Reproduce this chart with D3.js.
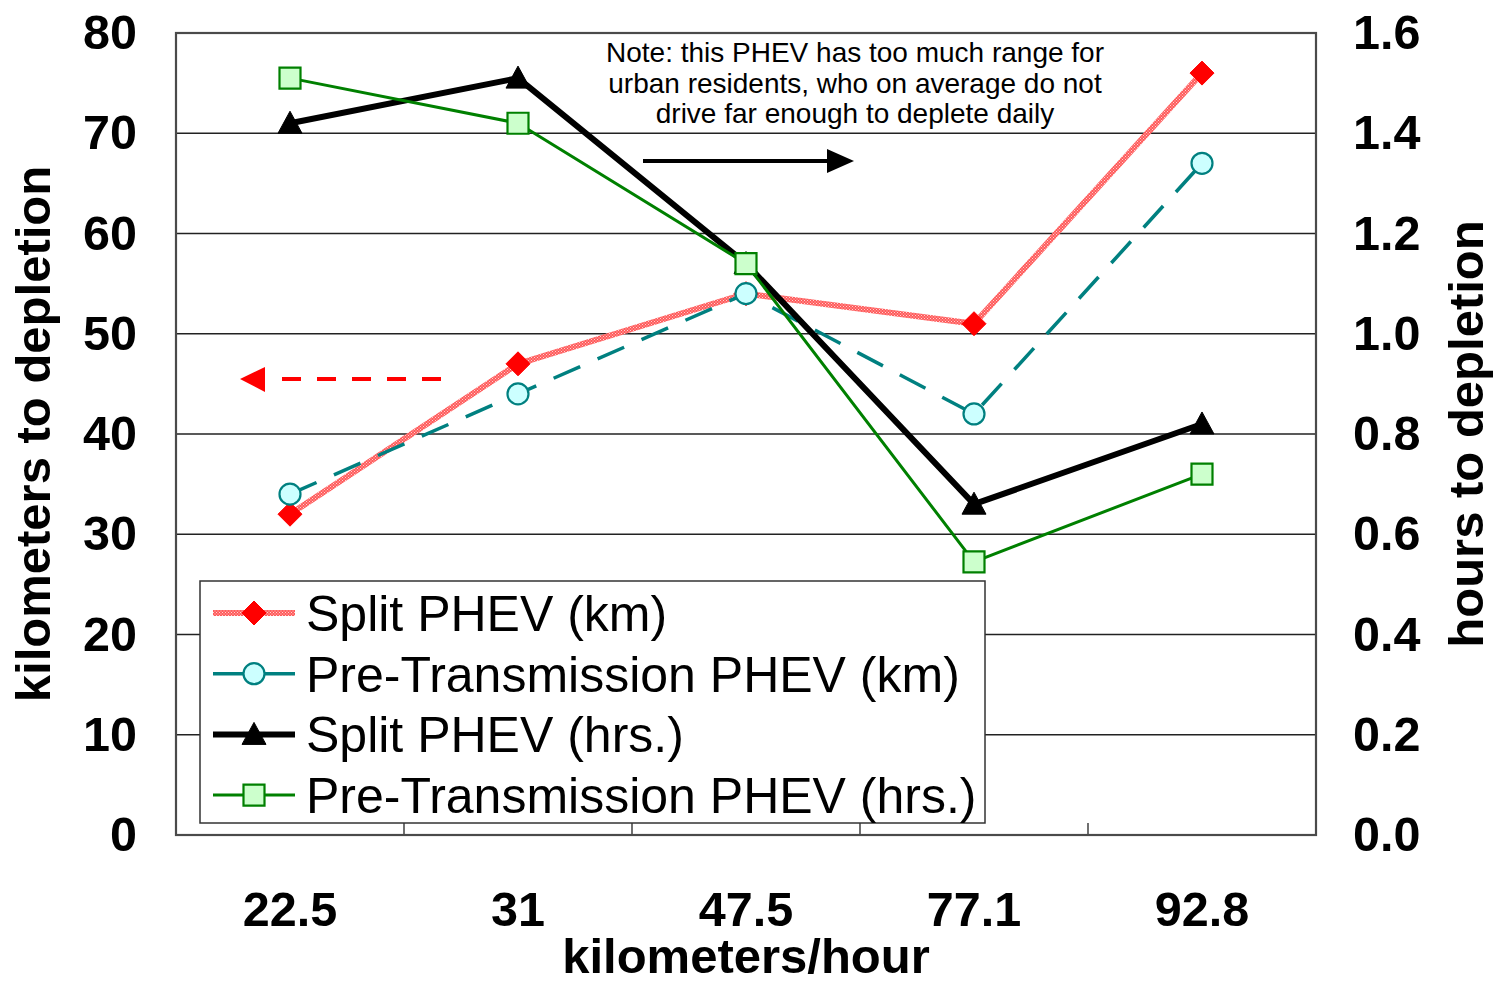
<!DOCTYPE html>
<html>
<head>
<meta charset="utf-8">
<script src="https://cdn.jsdelivr.net/npm/d3@7"></script>
<style>
  body { margin: 0; background: #fff; }
  svg { display: block; font-family: "Liberation Sans", Arial, sans-serif; }
</style>
</head>
<body>
<svg id="chart" width="1497" height="985"></svg>
<script>
// ---- data ----
const categories = ["22.5", "31", "47.5", "77.1", "92.8"];
const kmSplit = [32, 47, 54, 51, 76];
const kmPre = [34, 44, 54, 42, 67];
const hrsSplit = [1.42, 1.51, 1.14, 0.66, 0.82];
const hrsPre = [1.51, 1.42, 1.14, 0.545, 0.72];
const leftTicks = [0, 10, 20, 30, 40, 50, 60, 70, 80];
const rightTicks = [0, 0.2, 0.4, 0.6, 0.8, 1.0, 1.2, 1.4, 1.6];
const seriesNames = ["Split PHEV (km)", "Pre-Transmission PHEV (km)", "Split PHEV (hrs.)", "Pre-Transmission PHEV (hrs.)"];
const noteLines = ["Note: this PHEV has too much range for", "urban residents, who on average do not", "drive far enough to deplete daily"];
const xTitle = "kilometers/hour";
const yLeftTitle = "kilometers to depletion";
const yRightTitle = "hours to depletion";

// ---- layout ----
const L = 176, R = 1316, T = 33, B = 835;
const svg = d3.select("#chart");

const x = d3.scaleBand().domain(categories).range([L, R]);
const yL = d3.scaleLinear().domain([0, 80]).range([B, T]);
const yR = d3.scaleLinear().domain([0, 1.6]).range([B, T]);
const cx = c => x(c) + x.bandwidth() / 2;

// pattern for the hatched pink line
const defs = svg.append("defs");
const pat = defs.append("pattern").attr("id", "hatch").attr("patternUnits", "userSpaceOnUse")
  .attr("width", 3).attr("height", 3);
pat.append("rect").attr("width", 3).attr("height", 3).attr("fill", "#ff5a5a");
pat.append("rect").attr("x", 0).attr("y", 0).attr("width", 1).attr("height", 1).attr("fill", "#ffd0d0");
pat.append("rect").attr("x", 1.5).attr("y", 1.5).attr("width", 1).attr("height", 1).attr("fill", "#ffd0d0");

// gridlines
svg.append("g").selectAll("line").data(leftTicks.filter(d => d > 0 && d < 80)).join("line")
  .attr("x1", L).attr("x2", R).attr("y1", d => yL(d)).attr("y2", d => yL(d))
  .attr("stroke", "#222").attr("stroke-width", 1.3);

// bottom inner ticks at band boundaries
svg.append("g").selectAll("line").data(categories.slice(1)).join("line")
  .attr("x1", d => x(d)).attr("x2", d => x(d)).attr("y1", B).attr("y2", B - 12)
  .attr("stroke", "#222").attr("stroke-width", 1.3);

// frame
svg.append("rect").attr("x", L).attr("y", T).attr("width", R - L).attr("height", B - T)
  .attr("fill", "none").attr("stroke", "#4a4a4a").attr("stroke-width", 2.2);

// axes labels (via d3 axes)
const axL = svg.append("g").attr("transform", `translate(${L},0)`)
  .call(d3.axisLeft(yL).tickValues(leftTicks).tickSize(0).tickPadding(39).tickFormat(d3.format("d")));
const axR = svg.append("g").attr("transform", `translate(${R},0)`)
  .call(d3.axisRight(yR).tickValues(rightTicks).tickSize(0).tickPadding(37).tickFormat(d3.format(".1f")));
const axB = svg.append("g").attr("transform", `translate(0,${B})`)
  .call(d3.axisBottom(x).tickSize(0).tickPadding(57));
[axL, axR, axB].forEach(a => {
  a.select(".domain").remove();
  a.selectAll("text").attr("font-family", "'Liberation Sans', Arial, sans-serif")
    .attr("font-size", 48.5).attr("font-weight", "bold").attr("fill", "#000");
});
axB.selectAll("text").attr("dy", "0.71em");

// axis titles
svg.append("text").attr("x", (L + R) / 2).attr("y", 973).attr("text-anchor", "middle")
  .attr("font-size", 49).attr("font-weight", "bold").text(xTitle);
svg.append("text").attr("transform", "translate(50,434) rotate(-90)").attr("text-anchor", "middle")
  .attr("font-size", 49).attr("font-weight", "bold").text(yLeftTitle);
svg.append("text").attr("transform", "translate(1483,434) rotate(-90)").attr("text-anchor", "middle")
  .attr("font-size", 49).attr("font-weight", "bold").text(yRightTitle);

// note
svg.append("g").selectAll("text").data(noteLines).join("text")
  .attr("x", 855).attr("y", (d, i) => 62 + i * 30.5).attr("text-anchor", "middle")
  .attr("font-size", 28).attr("fill", "#000").text(d => d);

// arrows
// black arrow pointing right (to the hours axis)
svg.append("line").attr("x1", 643).attr("x2", 830).attr("y1", 161).attr("y2", 161)
  .attr("stroke", "#000").attr("stroke-width", 4);
svg.append("path").attr("d", "M854,161 L827,149 L827,173 Z").attr("fill", "#000");
// red dashed arrow pointing left (to km axis)
svg.append("line").attr("x1", 441).attr("x2", 270).attr("y1", 379).attr("y2", 379)
  .attr("stroke", "#ff0000").attr("stroke-width", 4).attr("stroke-dasharray", "19,16");
svg.append("path").attr("d", "M240,379 L265,367 L265,392 Z").attr("fill", "#ff0000");

// series definitions
const series = [
  { name: seriesNames[0], vals: kmSplit, y: yL, stroke: "url(#hatch)", width: 6, dash: null, marker: "diamond", mfill: "#ff0000", mstroke: "#ff0000" },
  { name: seriesNames[1], vals: kmPre, y: yL, stroke: "#008080", width: 3.5, dash: "29,19", marker: "circle", mfill: "#ccffff", mstroke: "#008080" },
  { name: seriesNames[2], vals: hrsSplit, y: yR, stroke: "#000000", width: 6, dash: null, marker: "triangle", mfill: "#000000", mstroke: "#000000" },
  { name: seriesNames[3], vals: hrsPre, y: yR, stroke: "#008000", width: 3, dash: null, marker: "square", mfill: "#ccffcc", mstroke: "#008000" }
];

function markerPath(type) {
  if (type === "diamond") return "M0,-12 L12,0 L0,12 L-12,0 Z";
  if (type === "triangle") return "M0,-12 L12,10 L-12,10 Z";
  if (type === "square") return "M-10.5,-10.5 L10.5,-10.5 L10.5,10.5 L-10.5,10.5 Z";
  return null;
}
function drawMarker(g, s, px, py) {
  if (s.marker === "circle") {
    g.append("circle").attr("cx", px).attr("cy", py).attr("r", 10.5)
      .attr("fill", s.mfill).attr("stroke", s.mstroke).attr("stroke-width", 2.2);
  } else {
    g.append("path").attr("d", markerPath(s.marker)).attr("transform", `translate(${px},${py})`)
      .attr("fill", s.mfill).attr("stroke", s.mstroke).attr("stroke-width", s.marker === "square" ? 2.2 : 1);
  }
}

const lineG = svg.append("g");
series.forEach(s => {
  const line = d3.line().x((d, i) => cx(categories[i])).y(d => s.y(d));
  lineG.append("path").datum(s.vals).attr("d", line).attr("fill", "none")
    .attr("stroke", s.stroke).attr("stroke-width", s.width)
    .attr("stroke-dasharray", s.dash).attr("stroke-linejoin", "round");
});
const markG = svg.append("g");
series.forEach(s => {
  s.vals.forEach((v, i) => drawMarker(markG, s, cx(categories[i]), s.y(v)));
});

// legend
const lg = svg.append("g");
lg.append("rect").attr("x", 200).attr("y", 581).attr("width", 785).attr("height", 242)
  .attr("fill", "#fff").attr("stroke", "#333").attr("stroke-width", 1.5);
series.forEach((s, i) => {
  const yy = 613 + i * 60.7;
  lg.append("line").attr("x1", 213).attr("x2", 295).attr("y1", yy).attr("y2", yy)
    .attr("stroke", s.stroke).attr("stroke-width", s.width);
  drawMarker(lg, s, 254, yy);
  lg.append("text").attr("x", 306).attr("y", yy + 18).attr("font-size", 50).attr("fill", "#000").text(s.name);
});
</script>
</body>
</html>
